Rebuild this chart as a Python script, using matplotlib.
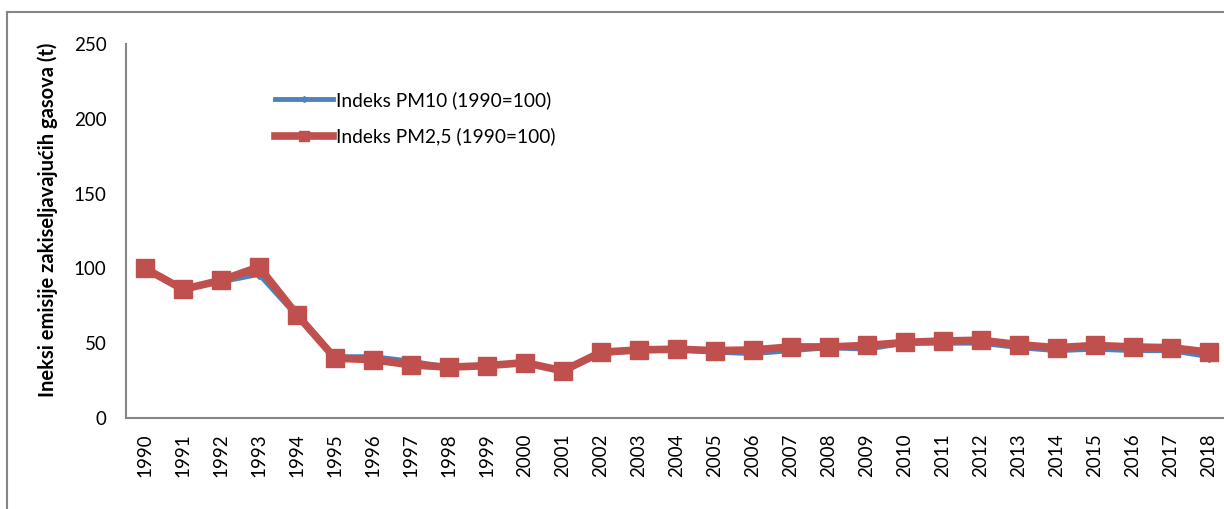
import matplotlib.pyplot as plt
import numpy as np

years = [str(y) for y in range(1990, 2019)]
pm10 = [100, 86, 91, 96, 68, 41, 41, 38, 34, 35, 37, 31, 43, 45, 46, 44, 43, 45,
        47, 46, 50, 50, 50, 47, 45, 46, 45, 45, 41]
pm25 = [100, 86, 92, 101, 69, 40, 39, 35.5, 34, 35, 37, 31.5, 44, 45.5, 46, 45, 45.5,
        47.5, 47.5, 48.5, 50.5, 51.5, 52, 49, 47, 48.5, 47.5, 47, 44]
y_ticks = [0, 50, 100, 150, 200, 250]

plt.rcParams['font.family'] = ['Lato', 'DejaVu Sans']

fig = plt.figure(figsize=(12.24, 5.09), dpi=100)
ax = fig.add_axes([126 / 1224, 91 / 509, 1102 / 1224, 374 / 509])

x = np.arange(len(years))
ax.plot(x, pm10, color='#4F81BD', lw=3.5, marker='D', markersize=5,
        label='Indeks PM10 (1990=100)')
ax.plot(x, pm25, color='#C0504D', lw=5.5, marker='s', markersize=13,
        label='Indeks PM2,5 (1990=100)')

ax.set_xlim(-0.5, len(years) - 0.5)
ax.set_ylim(0, 250)
ax.set_yticks(y_ticks)
ax.set_xticks(x)
ax.set_xticklabels(years, rotation=90)
ax.tick_params(axis='both', length=0, labelsize=13.5)
ax.tick_params(axis='y', pad=14)
ax.tick_params(axis='x', pad=11)

for s in ['top', 'right']:
    ax.spines[s].set_visible(False)
for s in ['left', 'bottom']:
    ax.spines[s].set_color('#868686')
    ax.spines[s].set_linewidth(1.5)

ax.set_ylabel('Ineksi emisije zakiseljavajućih gasova (t)', fontsize=14.5,
              fontweight='bold')
ax.yaxis.set_label_coords(-0.062, 0.53)

leg = ax.legend(loc='upper left', bbox_to_anchor=(258 / 1224, 1 - 74 / 509),
                bbox_transform=fig.transFigure, frameon=False, fontsize=13.8,
                handlelength=3.0, handletextpad=0.15, labelspacing=0.95,
                markerscale=0.6)

# outer chart border (top and left visible)
fig.add_artist(plt.Line2D([7 / 1224, 1.0], [1 - 12 / 509, 1 - 12 / 509],
                          transform=fig.transFigure, color='#868686', lw=1.5))
fig.add_artist(plt.Line2D([7 / 1224, 7 / 1224], [0, 1 - 12 / 509],
                          transform=fig.transFigure, color='#868686', lw=1.5))

fig.savefig('out.png', dpi=100)
